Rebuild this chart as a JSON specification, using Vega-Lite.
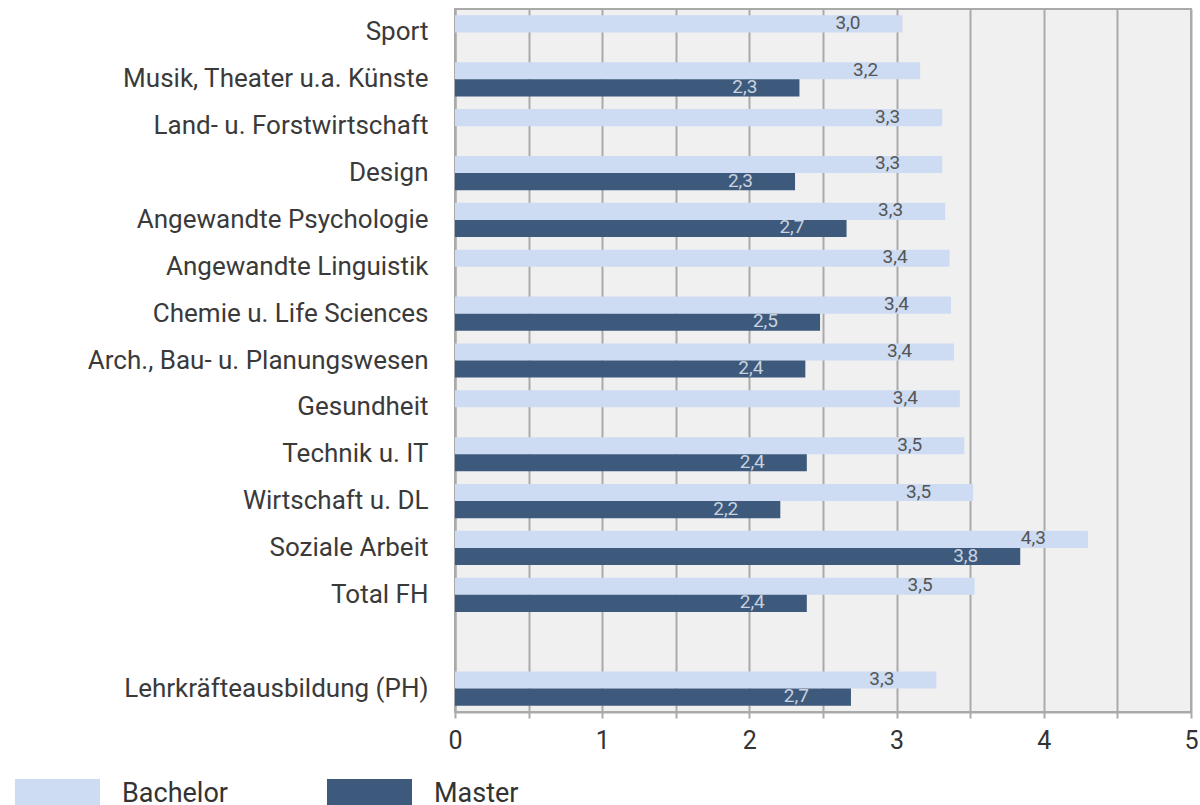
{
  "$schema": "https://vega.github.io/schema/vega-lite/v6.json",
  "autosize": {"type": "none"},
  "padding": {"left": 455, "top": 9, "right": 9, "bottom": 93},
  "width": 736,
  "height": 703,
  "background": "white",
  "config": {
    "font": "Roboto",
    "view": {"fill": "#f0f0f0", "stroke": "#aaaaaa", "strokeWidth": 2},
    "locale": {"number": {"decimal": ",", "thousands": ".", "grouping": [3], "currency": ["", " €"]}}
  },
  "data": {
    "values": [
      {"Fach": "Sport", "Typ": "Bachelor", "Wert": 3.04},
      {"Fach": "Musik, Theater u.a. Künste", "Typ": "Bachelor", "Wert": 3.16},
      {"Fach": "Musik, Theater u.a. Künste", "Typ": "Master", "Wert": 2.34},
      {"Fach": "Land- u. Forstwirtschaft", "Typ": "Bachelor", "Wert": 3.31},
      {"Fach": "Design", "Typ": "Bachelor", "Wert": 3.31},
      {"Fach": "Design", "Typ": "Master", "Wert": 2.31},
      {"Fach": "Angewandte Psychologie", "Typ": "Bachelor", "Wert": 3.33},
      {"Fach": "Angewandte Psychologie", "Typ": "Master", "Wert": 2.66},
      {"Fach": "Angewandte Linguistik", "Typ": "Bachelor", "Wert": 3.36},
      {"Fach": "Chemie u. Life Sciences", "Typ": "Bachelor", "Wert": 3.37},
      {"Fach": "Chemie u. Life Sciences", "Typ": "Master", "Wert": 2.48},
      {"Fach": "Arch., Bau- u. Planungswesen", "Typ": "Bachelor", "Wert": 3.39},
      {"Fach": "Arch., Bau- u. Planungswesen", "Typ": "Master", "Wert": 2.38},
      {"Fach": "Gesundheit", "Typ": "Bachelor", "Wert": 3.43},
      {"Fach": "Technik u. IT", "Typ": "Bachelor", "Wert": 3.46},
      {"Fach": "Technik u. IT", "Typ": "Master", "Wert": 2.39},
      {"Fach": "Wirtschaft u. DL", "Typ": "Bachelor", "Wert": 3.52},
      {"Fach": "Wirtschaft u. DL", "Typ": "Master", "Wert": 2.21},
      {"Fach": "Soziale Arbeit", "Typ": "Bachelor", "Wert": 4.3},
      {"Fach": "Soziale Arbeit", "Typ": "Master", "Wert": 3.84},
      {"Fach": "Total FH", "Typ": "Bachelor", "Wert": 3.53},
      {"Fach": "Total FH", "Typ": "Master", "Wert": 2.39},
      {"Fach": "Lehrkräfteausbildung (PH)", "Typ": "Bachelor", "Wert": 3.27},
      {"Fach": "Lehrkräfteausbildung (PH)", "Typ": "Master", "Wert": 2.69}
    ]
  },
  "encoding": {
    "y": {
      "field": "Fach", "type": "nominal", "title": null,
      "scale": {
        "domain": ["Sport", "Musik, Theater u.a. Künste", "Land- u. Forstwirtschaft", "Design", "Angewandte Psychologie", "Angewandte Linguistik", "Chemie u. Life Sciences", "Arch., Bau- u. Planungswesen", "Gesundheit", "Technik u. IT", "Wirtschaft u. DL", "Soziale Arbeit", "Total FH", " ", "Lehrkräfteausbildung (PH)"],
        "paddingInner": 0.27, "paddingOuter": 0.135
      },
      "axis": {
        "ticks": false, "domain": true, "domainColor": "#aaaaaa", "domainWidth": 2,
        "labelFontSize": 26, "labelColor": "#3a3a3a", "labelPadding": 27, "labelLimit": 500
      }
    },
    "yOffset": {"field": "Typ", "type": "nominal", "scale": {"domain": ["Bachelor", "Master"]}},
    "x": {
      "field": "Wert", "type": "quantitative", "title": null,
      "scale": {"domain": [0, 5], "nice": false},
      "axis": {
        "values": [0, 0.5, 1, 1.5, 2, 2.5, 3, 3.5, 4, 4.5, 5],
        "labelExpr": "datum.value % 1 === 0 ? datum.value : ''",
        "labelFlush": false,
        "grid": true, "gridColor": "#aaaaaa", "gridWidth": 2,
        "domainColor": "#aaaaaa", "domainWidth": 2,
        "tickColor": "#aaaaaa", "tickWidth": 2, "tickSize": 6,
        "labelFontSize": 25, "labelColor": "#333333", "labelPadding": 10
      }
    }
  },
  "layer": [
    {
      "mark": {"type": "bar"},
      "encoding": {
        "color": {
          "field": "Typ", "type": "nominal", "title": null,
          "scale": {"domain": ["Bachelor", "Master"], "range": ["#cddcf3", "#3d5a7d"]},
          "legend": {
            "orient": "none", "direction": "horizontal",
            "legendX": -440, "legendY": 742,
            "symbolType": "M-1,-0.35H1V0.35H-1Z", "symbolSize": 7225,
            "symbolStrokeWidth": 0, "symbolOpacity": 1,
            "labelFontSize": 27, "labelColor": "#333333", "labelOffset": 22,
            "columnPadding": 99
          }
        }
      }
    },
    {
      "mark": {"type": "text", "align": "right", "baseline": "middle", "dx": -42, "dy": -1, "fontSize": 19},
      "encoding": {
        "text": {"field": "Wert", "type": "quantitative", "format": ".1f"},
        "color": {"condition": {"test": "datum.Typ === 'Master'", "value": "#c9d2df"}, "value": "#555555"}
      }
    }
  ]
}
